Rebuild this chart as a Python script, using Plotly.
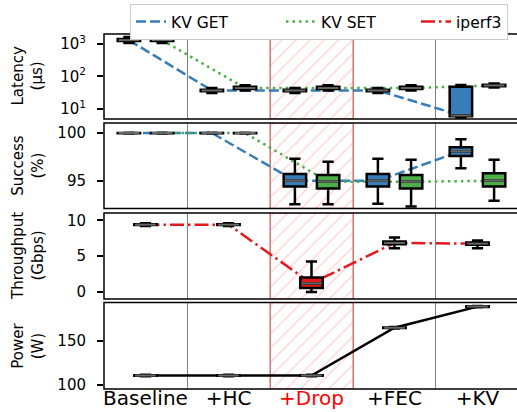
import plotly.graph_objects as go
from plotly.subplots import make_subplots

categories = ["Baseline", "+HC", "+Drop", "+FEC", "+KV"]

# Latency (us): GET / SET box stats
lat_get_low = [1080, 31, 31, 31, 5.4]
lat_get_q1 = [1250, 35, 35, 35, 6.0]
lat_get_med = [1320, 37, 37, 37, 6.3]
lat_get_q3 = [1420, 39, 39, 39, 48]
lat_get_high = [1650, 44, 44, 44, 55]

lat_set_low = [1080, 37, 37, 37, 46]
lat_set_q1 = [1250, 41, 41, 41, 50]
lat_set_med = [1330, 44, 44, 44, 53]
lat_set_q3 = [1430, 48, 48, 48, 56]
lat_set_high = [1650, 54, 54, 54, 61]

# Success (%)
suc_get_low = [99.95, 99.95, 92.55, 92.6, 96.3]
suc_get_q1 = [99.98, 99.98, 94.4, 94.4, 97.6]
suc_get_med = [100, 100, 95.0, 95.0, 98.1]
suc_get_q3 = [100, 100, 95.7, 95.7, 98.5]
suc_get_high = [100.02, 100.02, 97.3, 97.3, 99.35]

suc_set_low = [99.95, 99.95, 92.55, 92.3, 92.9]
suc_set_q1 = [99.98, 99.98, 94.2, 94.2, 94.4]
suc_set_med = [100, 100, 94.9, 94.9, 95.0]
suc_set_q3 = [100, 100, 95.6, 95.6, 95.8]
suc_set_high = [100.02, 100.02, 97.0, 97.2, 97.2]

# Throughput (Gbps) iperf3
thr_low = [9.2, 9.2, 0.0, 6.1, 6.1]
thr_q1 = [9.35, 9.35, 0.56, 6.65, 6.6]
thr_med = [9.4, 9.4, 1.2, 6.85, 6.75]
thr_q3 = [9.45, 9.45, 2.04, 7.05, 6.9]
thr_high = [9.6, 9.6, 4.27, 7.6, 7.2]

# Power (W)
pow_low = [110.0, 110.0, 110.0, 164.5, 188.8]
pow_q1 = [110.5, 110.5, 110.5, 165.0, 189.2]
pow_med = [110.8, 110.8, 110.8, 165.4, 189.6]
pow_q3 = [111.1, 111.1, 111.1, 165.8, 190.0]
pow_high = [111.6, 111.6, 111.6, 166.3, 190.4]

BLUE = "#377eb8"
GREEN = "#4daf4a"
RED = "#e41a1c"
MED = "#666666"
FONT = "DejaVu Sans"

idx = list(range(len(categories)))
OFF = 0.2
BW = 0.27

yranges = {1: [0.69, 3.31], 2: [92.1, 101.05], 3: [-0.98, 11.03], 4: [95.4, 194.3]}
domains = {1: [0.7606, 1.0], 2: [0.5085, 0.7493], 3: [0.2535, 0.4958], 4: [0.0, 0.2437]}

fig = make_subplots(rows=4, cols=1, shared_xaxes=True, vertical_spacing=0.01)

drop_i = categories.index("+Drop")


def hatch(row, log=False):
    lo, hi = yranges[row]
    if log:
        lo, hi = 10 ** lo, 10 ** hi
    fig.add_trace(go.Bar(x=[drop_i], y=[hi - lo], base=[lo], width=1.0,
                         marker=dict(color="rgba(0,0,0,0)",
                                     line=dict(color="rgba(240,120,120,0.8)", width=1.5),
                                     pattern=dict(shape="/", fgcolor="rgba(255,100,100,0.55)",
                                                  bgcolor="rgba(0,0,0,0)", size=10, solidity=0.15)),
                         showlegend=False, hoverinfo="skip", zorder=0), row=row, col=1)


def boxes(row, xs, low, q1, med, q3, high, color):
    for x, a, b, c, d, e in zip(xs, low, q1, med, q3, high):
        fig.add_trace(go.Box(x=[x], lowerfence=[a], q1=[b], median=[c], q3=[d], upperfence=[e],
                             width=BW, whiskerwidth=0.5, fillcolor=color,
                             line=dict(color="black", width=2.5), showlegend=False,
                             hoverinfo="skip", zorder=2), row=row, col=1)
    mx, my = [], []
    for x, c in zip(xs, med):
        mx += [x - BW / 2 + 0.01, x + BW / 2 - 0.01, None]
        my += [c, c, None]
    fig.add_trace(go.Scatter(x=mx, y=my, mode="lines", line=dict(color=MED, width=2),
                             showlegend=False, hoverinfo="skip", zorder=3), row=row, col=1)


def line(row, xs, ys, color, dash, name=None, legend=False, lw=None):
    fig.add_trace(go.Scatter(x=xs, y=ys, mode="lines", name=name,
                             line=dict(color=color, dash=dash, width=2.5),
                             showlegend=legend, legendwidth=lw, hoverinfo="skip", zorder=1),
                  row=row, col=1)


xg = [i - OFF for i in idx]
xs_ = [i + OFF for i in idx]

# Panel 1: latency
hatch(1, log=True)
line(1, xg, lat_get_med, BLUE, "10px,4px", "KV GET", True, 105)
line(1, xs_, lat_set_med, GREEN, "2.5px,4px", "KV SET", True, 90)
boxes(1, xg, lat_get_low, lat_get_q1, lat_get_med, lat_get_q3, lat_get_high, BLUE)
boxes(1, xs_, lat_set_low, lat_set_q1, lat_set_med, lat_set_q3, lat_set_high, GREEN)

# Panel 2: success
hatch(2)
line(2, xg, suc_get_med, BLUE, "10px,4px")
line(2, xs_, suc_set_med, GREEN, "2.5px,4px")
boxes(2, xg, suc_get_low, suc_get_q1, suc_get_med, suc_get_q3, suc_get_high, BLUE)
boxes(2, xs_, suc_set_low, suc_set_q1, suc_set_med, suc_set_q3, suc_set_high, GREEN)

# Panel 3: throughput
hatch(3)
line(3, idx, thr_med, RED, "14px,4px,2.5px,4px", "iperf3", True, 46)
boxes(3, idx, thr_low, thr_q1, thr_med, thr_q3, thr_high, RED)

# Panel 4: power
hatch(4)
line(4, idx, pow_med, "black", "solid")
boxes(4, idx, pow_low, pow_q1, pow_med, pow_q3, pow_high, "#888888")

ticktext = [("<span style='color:#ff0000'>%s</span>" % c) if c == "+Drop" else c for c in categories]

for r in range(1, 5):
    fig.update_xaxes(row=r, col=1, range=[-0.5, 4.476], tickvals=idx,
                     ticktext=ticktext, showticklabels=(r == 4), ticks="",
                     showline=False, showgrid=False, zeroline=False,
                     ticklabelstandoff=-5,
                     minor=dict(tickvals=[i + 0.5 for i in idx[:-1]], showgrid=True,
                                gridcolor="#808080", gridwidth=1, ticks=""),
                     tickfont=dict(size=20, color="black", family=FONT))
    fig.update_yaxes(row=r, col=1, range=yranges[r], domain=domains[r],
                     showline=False, ticks="outside", ticklen=6, tickwidth=1.5, tickcolor="black",
                     ticklabelstandoff=8, showgrid=False, zeroline=False,
                     tickfont=dict(size=15, color="black", family=FONT))
    xd = "x domain" if r == 1 else "x%d domain" % r
    yd = "y domain" if r == 1 else "y%d domain" % r
    fig.add_shape(type="rect", xref=xd, yref=yd, x0=0, x1=1.02, y0=0, y1=1,
                  line=dict(color="black", width=1.5), fillcolor="rgba(0,0,0,0)", layer="above")

fig.update_yaxes(row=1, col=1, type="log", tickvals=[10, 100, 1000],
                 ticktext=["10<sup>1</sup>", "10<sup>2</sup>", "10<sup>3</sup>"])
fig.update_yaxes(row=2, col=1, tickvals=[95, 100])
fig.update_yaxes(row=3, col=1, tickvals=[0, 5, 10])
fig.update_yaxes(row=4, col=1, tickvals=[100, 150])

titles = ["Latency<br>(µs)", "Success<br>(%)", "Throughput<br>(Gbps)", "Power<br>(W)"]
for r, t in enumerate(titles, start=1):
    yref = "y domain" if r == 1 else "y%d domain" % r
    fig.add_annotation(text=t, xref="paper", yref=yref, x=-0.184, y=0.5,
                       xanchor="center", yanchor="middle", textangle=-90,
                       showarrow=False, font=dict(size=15, color="black", family=FONT))

fig.update_layout(
    width=517, height=412,
    margin=dict(l=104, r=0, t=34, b=23, autoexpand=False),
    plot_bgcolor="white", paper_bgcolor="white",
    boxmode="overlay", barmode="overlay",
    font=dict(family=FONT, size=15, color="black"),
    showlegend=True,
    legend=dict(orientation="h", x=0.063, y=1.0845, xanchor="left", yanchor="top",
                bgcolor="white", bordercolor="#cccccc", borderwidth=1,
                font=dict(size=15.5, family=FONT), itemwidth=30, tracegroupgap=0),
)

fig.write_html("out.html", config={"displayModeBar": False},
               post_script="document.body.style.margin='0';")
